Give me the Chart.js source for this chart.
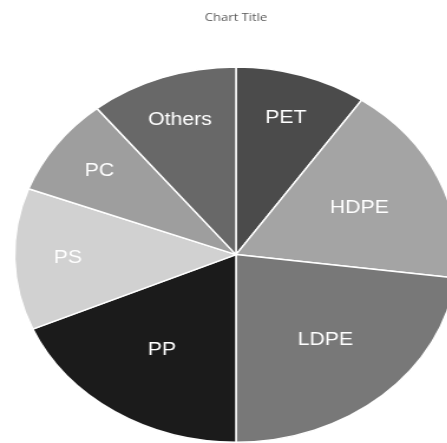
<!DOCTYPE html>
<html>
<head>
<meta charset="utf-8">
<script src="https://cdn.jsdelivr.net/npm/chart.js@4/dist/chart.umd.min.js"></script>
<style>
  html, body { margin: 0; padding: 0; background: #fff; overflow: hidden; }
</style>
</head>
<body>
<!-- the reference is stretched sideways, so the canvas is drawn narrow and widened by its style -->
<canvas id="pie" width="400" height="443" style="width:472px;height:443px;display:block"></canvas>
<script>
// plastics share (percent)
const labels = ['PET', 'HDPE', 'LDPE', 'PP', 'PS', 'PC', 'Others'];
const shares = [9.6, 17.4, 23.0, 18.5, 12.2, 8.5, 10.8];
const greys = ['#4b4b4b', '#a4a4a4', '#787878', '#1b1b1b', '#d1d1d1', '#9e9e9e', '#686868'];

// white names inside the slices, small slices get pushed further out
const sliceNames = {
    id: 'sliceNames',
    afterDatasetsDraw: (chart) => {
        const ctx = chart.ctx;
        const meta = chart.getDatasetMeta(0);
        ctx.save();
        ctx.fillStyle = '#ffffff';
        ctx.font = '18px "Liberation Sans", Arial, sans-serif';
        ctx.textAlign = 'center';
        ctx.textBaseline = 'middle';
        meta.data.forEach((arc, i) => {
            const p = arc.getProps(['x', 'y', 'startAngle', 'endAngle', 'outerRadius'], true);
            const mid = (p.startAngle + p.endAngle) / 2;
            const frac = (p.endAngle - p.startAngle) < 0.9 ? 0.76 : 0.61;
            const r = p.outerRadius * frac;
            ctx.fillText(labels[i], p.x + Math.cos(mid) * r, p.y + Math.sin(mid) * r);
        });
        ctx.restore();
    }
};

new Chart('pie', {
    type: 'pie',
    data: {
        labels: labels,
        datasets: [{
            data: shares,
            backgroundColor: greys,
            borderColor: '#ffffff',
            borderWidth: 1.5
        }]
    },
    options: {
        responsive: false,
        animation: false,
        devicePixelRatio: 1,
        layout: { padding: 0 },
        plugins: {
            legend: { display: false },
            tooltip: { enabled: false },
            title: {
                display: true,
                text: 'Chart Title',
                color: '#595959',
                font: { family: '"Open Sans", sans-serif', size: 11, weight: 'normal' },
                padding: { top: 11, bottom: 42 }
            }
        }
    },
    plugins: [sliceNames]
});
</script>
</body>
</html>
